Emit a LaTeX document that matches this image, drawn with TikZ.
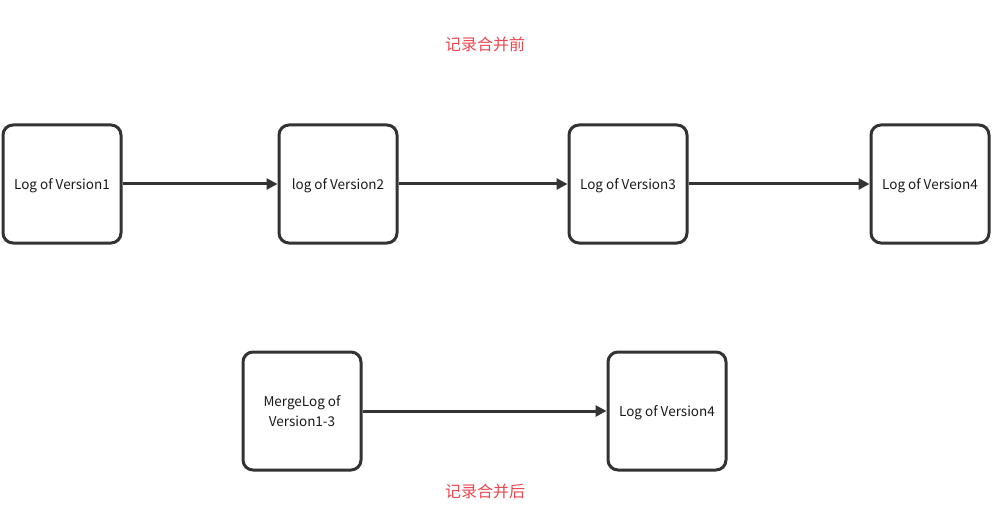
\documentclass[tikz,border=0pt]{standalone}
\usepackage{fontspec}
\setmainfont{Noto Sans CJK SC}
\usetikzlibrary{arrows.meta}
\definecolor{boxline}{RGB}{51,51,51}
\definecolor{lblred}{RGB}{232,72,80}
\begin{document}
\begin{tikzpicture}[x=1pt,y=-1pt,
  logbox/.style={draw=boxline,line width=3pt,rounded corners=10pt,minimum width=118pt,minimum height=118pt,align=center,inner sep=0pt,font=\fontsize{13.5}{19.5}\selectfont,text=black!90,text depth=0pt},
  link/.style={draw=boxline,line width=3pt,-{Triangle[length=11pt,width=11pt]}},
  title/.style={text=lblred,font=\fontsize{16}{18}\selectfont}]
\useasboundingbox (0,0) rectangle (992,529);
\node[title] (t1) at (485,44) {记录合并前};
\node[title] (t2) at (485,491) {记录合并后};
\node[logbox] (a) at (62,184) {Log of Version1};
\node[logbox] (b) at (338,184) {log of Version2};
\node[logbox] (c) at (628,184) {Log of Version3};
\node[logbox] (d) at (930,184) {Log of Version4};
\node[logbox] (m) at (302,411) {MergeLog of\\Version1-3};
\node[logbox] (e) at (667,411) {Log of Version4};
\draw[link] (a.east) -- (b.west);
\draw[link] (b.east) -- (c.west);
\draw[link] (c.east) -- (d.west);
\draw[link] (m.east) -- (e.west);
\end{tikzpicture}
\end{document}
